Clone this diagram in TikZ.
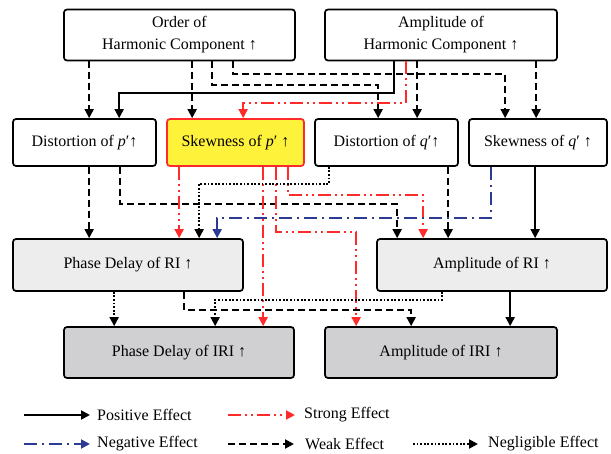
\documentclass[tikz,border=0pt]{standalone}
\usepackage{fontspec}
\setmainfont{Liberation Serif}
\usetikzlibrary{arrows.meta}
\definecolor{sred}{HTML}{FF2B2B}
\definecolor{nblue}{HTML}{2B3A92}
\definecolor{syellow}{HTML}{FFF23A}
\definecolor{gLight}{HTML}{EDEDED}
\definecolor{gDark}{HTML}{D0D0D2}
\begin{document}
\begin{tikzpicture}[x=1pt,y=-1pt,
  box/.style={draw=black, line width=1.7pt, rounded corners=3pt, inner sep=0pt, align=center, font=\fontsize{16}{22}\selectfont},
  arrtip/.style={-{Triangle[length=9pt,width=9pt]}},
  posE/.style={arrtip, line width=1.9pt, draw=black},
  weakE/.style={arrtip, line width=1.9pt, draw=black, dash pattern=on 7pt off 4pt},
  strongE/.style={arrtip, line width=1.9pt, draw=sred, dash pattern=on 13pt off 4pt on 2pt off 4pt on 2pt off 4pt},
  negE/.style={arrtip, line width=1.9pt, draw=nblue, dash pattern=on 13pt off 5pt on 2pt off 5pt},
  neglE/.style={arrtip, line width=1.9pt, draw=black, dash pattern=on 1.8pt off 1.8pt},
  legtext/.style={anchor=west, inner sep=0pt, font=\fontsize{16}{20}\selectfont},
]
\useasboundingbox (0,0) rectangle (611,454);

% row 1
\node[box, fill=white, minimum width=231pt, minimum height=51pt] (Order) at (179.5,35) {Order of\\Harmonic Component ↑};
\node[box, fill=white, minimum width=232pt, minimum height=51pt] (AmpHC) at (441,35) {Amplitude of\\Harmonic Component ↑};
% row 2
\node[box, fill=white, minimum width=143pt, minimum height=47pt] (Dp) at (84.5,142.5) {Distortion of \textit{p}′↑};
\node[box, fill=syellow, draw=sred, minimum width=137pt, minimum height=47pt] (Sp) at (235.5,142.5) {Skewness of \textit{p}′ ↑};
\node[box, fill=white, minimum width=143pt, minimum height=47pt] (Dq) at (386.5,142.5) {Distortion of \textit{q}′↑};
\node[box, fill=white, minimum width=138pt, minimum height=47pt] (Sq) at (538,142.5) {Skewness of \textit{q}′ ↑};
% row 3
\node[box, fill=gLight, minimum width=230pt, minimum height=52pt] (PRI) at (128,265) {Phase Delay of RI ↑};
\node[box, fill=gLight, minimum width=230pt, minimum height=52pt] (ARI) at (492,265) {Amplitude of RI ↑};
% row 4
\node[box, fill=gDark, minimum width=230pt, minimum height=51pt] (PIRI) at (179,352.5) {Phase Delay of IRI ↑};
\node[box, fill=gDark, minimum width=232pt, minimum height=51pt] (AIRI) at (441,352.5) {Amplitude of IRI ↑};

% from Order
\draw[weakE] ([xshift=26pt]Order.south west) coordinate (a1) -- (a1 |- Dp.north);
\draw[weakE] ([xshift=129pt]Order.south west) coordinate (a2) -- (a2 |- Sp.north);
\draw[weakE] ([xshift=149pt]Order.south west) -- ++(0,24) -| ([xshift=64pt]Dq.north west);
\draw[weakE] ([xshift=170pt]Order.south west) -- ++(0,13) -| ([xshift=37pt]Sq.north west);
% from AmpHC
\draw[posE] ([xshift=70pt]AmpHC.south west) -- ++(0,32) -| ([xshift=107pt]Dp.north west);
\draw[strongE] ([xshift=82pt]AmpHC.south west) -- ++(0,42) -| ([xshift=77pt]Sp.north west);
\draw[weakE] ([xshift=93pt]AmpHC.south west) coordinate (b3) -- (b3 |- Dq.north);
\draw[weakE] ([xshift=212pt]AmpHC.south west) coordinate (b4) -- (b4 |- Sq.north);

% from Dp
\draw[weakE] ([xshift=77pt]Dp.south west) coordinate (c1) -- (c1 |- PRI.north);
\draw[weakE] ([xshift=108pt]Dp.south west) -- ++(0,37) -| ([xshift=21pt]ARI.north west);
% from Sp
\draw[strongE] ([xshift=13pt]Sp.south west) coordinate (d1) -- (d1 |- PRI.north);
\draw[strongE] ([xshift=97pt]Sp.south west) coordinate (d2) -- (d2 |- PIRI.north);
\draw[strongE] ([xshift=110pt]Sp.south west) -- ++(0,65) -| ([xshift=32pt]AIRI.north west);
\draw[strongE] ([xshift=122pt]Sp.south west) -- ++(0,28) -| ([xshift=47pt]ARI.north west);
% from Dq
\draw[neglE] ([xshift=15pt]Dq.south west) -- ++(0,17) -| ([xshift=187pt]PRI.north west);
\draw[weakE] ([xshift=134pt]Dq.south west) coordinate (e2) -- (e2 |- ARI.north);
% from Sq
\draw[negE] ([xshift=23pt]Sq.south west) -- ++(0,51) -| ([xshift=205pt]PRI.north west);
\draw[posE] ([xshift=67pt]Sq.south west) coordinate (f2) -- (f2 |- ARI.north);

% from PRI
\draw[neglE] ([xshift=102pt]PRI.south west) coordinate (g1) -- (g1 |- PIRI.north);
\draw[weakE] ([xshift=172pt]PRI.south west) -- ++(0,18) -| ([xshift=87pt]AIRI.north west);
% from ARI
\draw[neglE] ([xshift=66pt]ARI.south west) -- ++(0,8) -| ([xshift=152pt]PIRI.north west);
\draw[posE] ([xshift=134pt]ARI.south west) coordinate (h2) -- (h2 |- AIRI.north);

% legend
\node[legtext] (tPos) at (97,415) {Positive Effect};
\node[legtext] (tStr) at (304,415) {Strong Effect};
\node[legtext] (tNeg) at (97,444) {Negative Effect};
\node[legtext] (tWeak) at (305,444) {Weak Effect};
\node[legtext] (tNegl) at (488,444) {Negligible Effect};
\coordinate (lPos) at (24,415);
\coordinate (lStr) at (228,415);
\coordinate (lNeg) at (24,444);
\coordinate (lWeak) at (228,444);
\coordinate (lNegl) at (413,444);
\draw[posE] (lPos) -- ([xshift=-7pt]tPos.west);
\draw[strongE] (lStr) -- ([xshift=-9pt]tStr.west);
\draw[negE] (lNeg) -- ([xshift=-7pt]tNeg.west);
\draw[weakE] (lWeak) -- ([xshift=-11pt]tWeak.west);
\draw[neglE] (lNegl) -- ([xshift=-10pt]tNegl.west);
\end{tikzpicture}
\end{document}
